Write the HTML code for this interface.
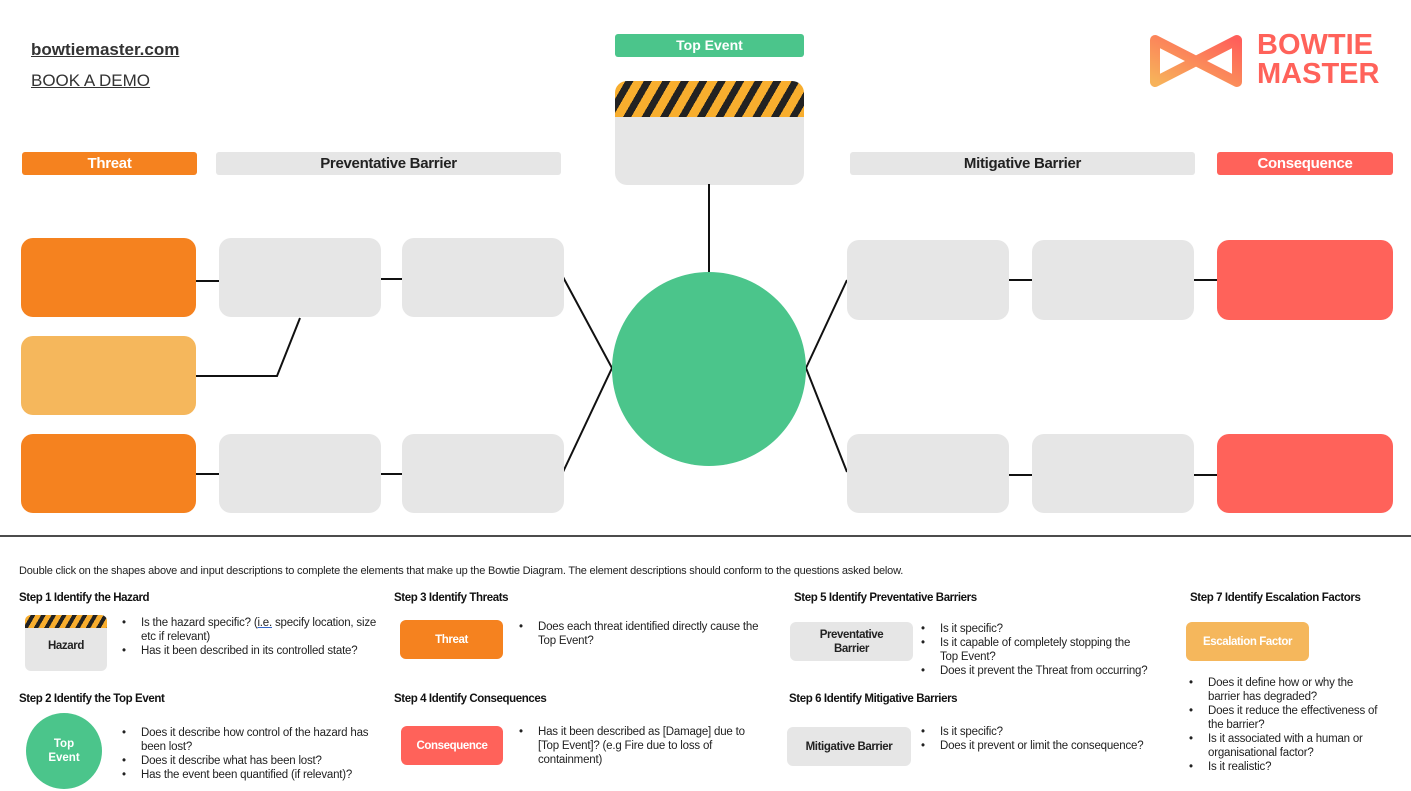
<!DOCTYPE html>
<html><head><meta charset="utf-8"><style>
*{margin:0;padding:0;box-sizing:border-box}
body{width:1411px;height:791px;background:#fff;position:relative;overflow:hidden;font-family:"Liberation Sans",sans-serif;color:#222}
.a{position:absolute}
.r{position:absolute;border-radius:12px}
.g{background:#e6e6e6}.o{background:#f5821f}.lo{background:#f5b75c}.rd{background:#ff625a}
.hb{position:absolute;top:152px;height:23px;border-radius:3px;font-weight:bold;font-size:15px;text-align:center;line-height:23px;letter-spacing:-0.3px}
.h{position:absolute;font-weight:bold;font-size:11.5px;letter-spacing:-0.4px;color:#111}
.b{position:absolute;font-size:11.5px;line-height:14px;color:#222;white-space:nowrap;letter-spacing:-0.2px}
.b i{position:absolute;font-style:normal;left:-19px}
.sb{position:absolute;border-radius:6px;font-weight:bold;font-size:11.5px;display:flex;align-items:center;justify-content:center;text-align:center;line-height:14px;letter-spacing:-0.4px}
.stripe{background:repeating-linear-gradient(120deg,#f8ae2e 0 9px,#222 9px 16px)}
</style></head><body>
<div class="a" style="left:31px;top:40px;font-size:17px;font-weight:bold;text-decoration:underline;color:#333">bowtiemaster.com</div>
<div class="a" style="left:31px;top:71px;font-size:17px;text-decoration:underline;color:#333">BOOK A DEMO</div>

<svg class="a" style="left:1148px;top:33px" width="96" height="56" viewBox="0 0 96 56">
<defs><linearGradient id="lg" x1="0" y1="1" x2="1" y2="0"><stop offset="0" stop-color="#f7b25a"/><stop offset="1" stop-color="#ff5f5a"/></linearGradient></defs>
<path d="M7 7 L48 28 L89 7 L89 49 L48 28 L7 49 Z" fill="none" stroke="url(#lg)" stroke-width="10" stroke-linejoin="round"/>
</svg>
<div class="a" style="left:1257px;top:31px;font-size:29px;font-weight:bold;color:#ff625a;line-height:29px;letter-spacing:0px">BOWTIE<br>MASTER</div>

<div class="a" style="left:615px;top:34px;width:189px;height:23px;background:#4bc58b;border-radius:3px;color:#fff;font-weight:bold;font-size:14px;text-align:center;line-height:23px">Top Event</div>
<div class="a g" style="left:615px;top:81px;width:189px;height:104px;border-radius:12px;overflow:hidden"><div class="stripe" style="height:36px"></div></div>

<div class="hb o" style="left:22px;width:175px;color:#fff">Threat</div>
<div class="hb g" style="left:216px;width:345px">Preventative Barrier</div>
<div class="hb g" style="left:850px;width:345px">Mitigative Barrier</div>
<div class="hb rd" style="left:1217px;width:176px;color:#fff">Consequence</div>

<svg class="a" style="left:0;top:0" width="1411" height="791">
<g stroke="#111" stroke-width="2" fill="none">
<line x1="709" y1="184" x2="709" y2="273"/>
<line x1="196" y1="281" x2="219" y2="281"/><line x1="381" y1="279" x2="402" y2="279"/>
<polyline points="563,277 612,368 563,472"/>
<polyline points="196,376 277,376 300,318"/>
<line x1="196" y1="474" x2="219" y2="474"/><line x1="381" y1="474" x2="402" y2="474"/>
<polyline points="847,280 806,368 847,472"/>
<line x1="1009" y1="280" x2="1032" y2="280"/><line x1="1193" y1="280" x2="1217" y2="280"/>
<line x1="1009" y1="475" x2="1032" y2="475"/><line x1="1193" y1="475" x2="1217" y2="475"/>
<line x1="0" y1="536" x2="1411" y2="536" stroke-width="1.5"/>
</g>
<circle cx="709" cy="369" r="97" fill="#4bc58b"/>
</svg>

<div class="r o" style="left:21px;top:238px;width:175px;height:79px"></div>
<div class="r lo" style="left:21px;top:336px;width:175px;height:79px"></div>
<div class="r o" style="left:21px;top:434px;width:175px;height:79px"></div>
<div class="r g" style="left:219px;top:238px;width:162px;height:79px"></div>
<div class="r g" style="left:402px;top:238px;width:162px;height:79px"></div>
<div class="r g" style="left:219px;top:434px;width:162px;height:79px"></div>
<div class="r g" style="left:402px;top:434px;width:162px;height:79px"></div>
<div class="r g" style="left:847px;top:240px;width:162px;height:80px"></div>
<div class="r g" style="left:1032px;top:240px;width:162px;height:80px"></div>
<div class="r rd" style="left:1217px;top:240px;width:176px;height:80px"></div>
<div class="r g" style="left:847px;top:434px;width:162px;height:79px"></div>
<div class="r g" style="left:1032px;top:434px;width:162px;height:79px"></div>
<div class="r rd" style="left:1217px;top:434px;width:176px;height:79px"></div>

<div class="a" style="left:19px;top:565px;font-size:11px;color:#222;letter-spacing:-0.2px">Double click on the shapes above and input descriptions to complete the elements that make up the Bowtie Diagram. The element descriptions should conform to the questions asked below.</div>

<div class="h" style="left:19px;top:592px">Step 1 Identify the Hazard</div>
<div class="h" style="left:394px;top:592px">Step 3 Identify Threats</div>
<div class="h" style="left:794px;top:592px">Step 5 Identify Preventative Barriers</div>
<div class="h" style="left:1190px;top:592px">Step 7 Identify Escalation Factors</div>
<div class="h" style="left:19px;top:693px">Step 2 Identify the Top Event</div>
<div class="h" style="left:394px;top:693px">Step 4 Identify Consequences</div>
<div class="h" style="left:789px;top:693px">Step 6 Identify Mitigative Barriers</div>

<div class="a g" style="left:25px;top:615px;width:82px;height:56px;border-radius:6px;overflow:hidden"><div class="stripe" style="height:13px;background:repeating-linear-gradient(120deg,#f8ae2e 0 5px,#222 5px 9px)"></div><div style="text-align:center;font-weight:bold;font-size:11.5px;margin-top:12px;letter-spacing:-0.4px">Hazard</div></div>
<div class="sb o" style="left:400px;top:620px;width:103px;height:39px;color:#fff">Threat</div>
<div class="sb rd" style="left:401px;top:726px;width:102px;height:39px;color:#fff">Consequence</div>
<div class="sb g" style="left:790px;top:622px;width:123px;height:39px">Preventative<br>Barrier</div>
<div class="sb g" style="left:787px;top:727px;width:124px;height:39px">Mitigative Barrier</div>
<div class="sb lo" style="left:1186px;top:622px;width:123px;height:39px;color:#fff">Escalation Factor</div>
<div class="a" style="left:26px;top:713px;width:76px;height:76px;border-radius:50%;background:#4bc58b;color:#fff;font-weight:bold;font-size:11.5px;display:flex;align-items:center;justify-content:center;text-align:center;line-height:14px">Top<br>Event</div>

<div class="b" style="left:141px;top:616px"><i>•</i>Is the hazard specific? (<u style="text-decoration-color:#36c">i.e.</u> specify location, size<br>etc if relevant)<br><i>•</i>Has it been described in its controlled state?</div>
<div class="b" style="left:141px;top:726px"><i>•</i>Does it describe how control of the hazard has<br>been lost?<br><i>•</i>Does it describe what has been lost?<br><i>•</i>Has the event been quantified (if relevant)?</div>
<div class="b" style="left:538px;top:620px"><i>•</i>Does each threat identified directly cause the<br>Top Event?</div>
<div class="b" style="left:538px;top:725px"><i>•</i>Has it been described as [Damage] due to<br>[Top Event]? (e.g Fire due to loss of<br>containment)</div>
<div class="b" style="left:940px;top:622px"><i>•</i>Is it specific?<br><i>•</i>Is it capable of completely stopping the<br>Top Event?<br><i>•</i>Does it prevent the Threat from occurring?</div>
<div class="b" style="left:940px;top:725px"><i>•</i>Is it specific?<br><i>•</i>Does it prevent or limit the consequence?</div>
<div class="b" style="left:1208px;top:676px"><i>•</i>Does it define how or why the<br>barrier has degraded?<br><i>•</i>Does it reduce the effectiveness of<br>the barrier?<br><i>•</i>Is it associated with a human or<br>organisational factor?<br><i>•</i>Is it realistic?</div>
</body></html>
